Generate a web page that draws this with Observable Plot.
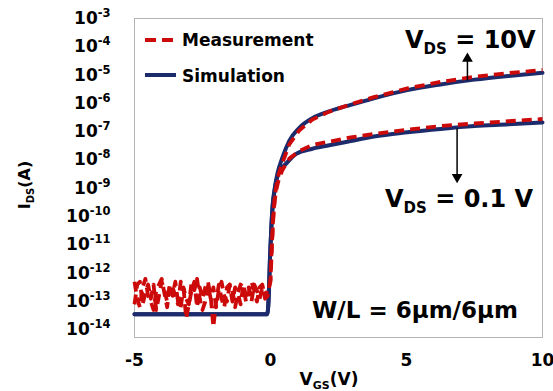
<!DOCTYPE html>
<html><head><meta charset="utf-8">
<script src="https://cdn.jsdelivr.net/npm/d3@7"></script>
<script src="https://cdn.jsdelivr.net/npm/@observablehq/plot@0.6"></script>
<style>
body{margin:0;background:#fff}
svg{font-family:"DejaVu Sans",sans-serif;font-weight:bold}
</style>
</head><body><div id="chart"></div>
<script>
// ---- tick values ----
const xTicks = [-5, 0, 5, 10];
const yTickExponents = [-3, -4, -5, -6, -7, -8, -9, -10, -11, -12, -13, -14];

// ---- simulation (log10 of IDS) ----
const vgsSim10 = [-5, -0.12, -0.06, -0.02, 0.03, 0.08, 0.14, 0.25, 0.44, 0.69, 1.06, 1.54, 2.16, 2.95, 3.8, 5.03, 6.25, 7.5, 8.75, 10];
const logSim10 = [-13.45, -13.45, -12.7, -11.5, -10.4, -9.6, -9.1, -8.5, -7.91, -7.32, -6.86, -6.52, -6.28, -6.05, -5.82, -5.53, -5.33, -5.16, -5.03, -4.92];
const vgsSim01 = [-5, -0.12, -0.06, -0.02, 0.03, 0.08, 0.14, 0.25, 0.4, 0.56, 0.93, 1.54, 2.16, 2.95, 3.8, 5.03, 6.25, 7.5, 8.75, 10];
const logSim01 = [-13.45, -13.45, -12.7, -11.5, -10.4, -9.6, -9.15, -8.6, -8.3, -8.14, -7.79, -7.6, -7.48, -7.33, -7.17, -7.02, -6.9, -6.8, -6.74, -6.67];

// ---- measurement (log10 of IDS) ----
const vgsMeas = [-5.0, -4.9, -4.8, -4.7, -4.6, -4.5, -4.4, -4.3, -4.2, -4.1,
  -4.0, -3.9, -3.8, -3.7, -3.6, -3.5, -3.4, -3.3, -3.2, -3.1,
  -3.0, -2.9, -2.8, -2.7, -2.6, -2.5, -2.4, -2.3, -2.2, -2.1,
  -2.0, -1.9, -1.8, -1.7, -1.6, -1.5, -1.4, -1.3, -1.2, -1.1,
  -1.0, -0.9, -0.8, -0.7, -0.6, -0.5, -0.4, -0.3, -0.2,
  -0.1, 0.0, 0.05, 0.1, 0.15, 0.2, 0.3, 0.44, 0.69, 1.06, 1.54, 2.16, 2.95, 3.8, 5.03, 6.25, 7.5, 8.75, 10];
const logMeas10 = [-12.3, -12.9, -13.2, -12.5, -12.2, -12.8, -13.0, -13.3, -12.6, -12.4,
  -12.2, -12.7, -13.2, -12.4, -12.8, -12.3, -13.0, -13.2, -12.5, -12.9,
  -13.1, -12.3, -12.6, -12.2, -12.9, -13.3, -13.0, -12.4, -12.9, -12.5,
  -13.2, -12.6, -12.3, -12.8, -13.0, -12.4, -12.6, -13.2, -12.7, -12.4,
  -12.5, -13.0, -12.7, -12.3, -12.6, -13.0, -12.5, -12.4, -12.9,
  -12.8, -12.2, -11.0, -10.0, -9.4, -9.0, -8.5, -8.1, -7.45, -6.95, -6.57, -6.29, -6.03, -5.78, -5.47, -5.24, -5.06, -4.93, -4.82];
const logMeas01 = [-13.1, -12.4, -12.3, -13.1, -12.7, -12.4, -12.9, -12.4, -13.3, -12.8,
  -12.3, -12.6, -13.0, -12.4, -12.5, -12.8, -13.1, -12.3, -12.5, -13.6,
  -13.1, -12.6, -12.3, -13.2, -12.5, -12.9, -12.5, -12.3, -12.8, -13.9,
  -13.0, -12.4, -12.9, -13.2, -12.5, -12.4, -13.0, -12.5, -12.7, -13.1,
  -12.4, -12.8, -12.5, -13.0, -12.4, -12.6, -12.9, -12.5, -12.8,
  -12.6, -12.3, -11.1, -10.1, -9.5, -9.1, -8.7, -8.35, -7.95, -7.68, -7.47, -7.35, -7.2, -7.08, -6.93, -6.8, -6.71, -6.63, -6.55];

// ---- annotation arrows (VGS, log10 IDS from -> to) ----
const arrowVgs = [7.24, 6.86];
const arrowFrom = [-5.19, -6.89];
const arrowTo = [-4.42, -8.6];
const arrowDir = [0, 180];

const blue = "#1c2b6b", red = "#cc0a0a";

const simData = [];
vgsSim10.forEach((v, i) => simData.push({s: "10V", vgs: v, ids: 10 ** logSim10[i]}));
vgsSim01.forEach((v, i) => simData.push({s: "0.1V", vgs: v, ids: 10 ** logSim01[i]}));
const measData = [];
vgsMeas.forEach((v, i) => measData.push({s: "10V", vgs: v, ids: 10 ** logMeas10[i]}));
vgsMeas.forEach((v, i) => measData.push({s: "0.1V", vgs: v, ids: 10 ** logMeas01[i]}));
const arrows = arrowVgs.map((v, i) => ({x: v, y1: 10 ** arrowFrom[i], y2: 10 ** arrowTo[i], r: arrowDir[i]}));

const plot = Plot.plot({
  width: 553, height: 391,
  marginLeft: 134, marginRight: 11, marginTop: 18, marginBottom: 54,
  style: {fontFamily: "DejaVu Sans", fontWeight: "bold", fontSize: "17px", color: "#000", background: "#fff", overflow: "visible"},
  x: {domain: [-5, 10], ticks: xTicks, tickSize: 0, tickPadding: 16, label: null, tickFormat: d => String(d)},
  y: {type: "log", domain: [10 ** -14.27, 1e-3], ticks: yTickExponents.map(e => 10 ** e),
      tickFormat: d => "10^" + Math.round(Math.log10(d)), tickSize: 0, tickPadding: 24, label: null},
  marks: [
    Plot.frame({stroke: "#b4b4b4", strokeWidth: 1}),
    Plot.line(simData, {x: "vgs", y: "ids", z: "s", stroke: blue, strokeWidth: 4, curve: "monotone-x"}),
    Plot.line(measData, {x: "vgs", y: "ids", z: "s", stroke: red, strokeWidth: 3.8, strokeDasharray: "10,6", strokeLinecap: "butt", curve: "linear"}),
    Plot.link(arrows, {x1: "x", x2: "x", y1: "y1", y2: "y2", stroke: "#000", strokeWidth: 1.5}),
    Plot.dot(arrows, {x: "x", y: "y2", symbol: "triangle", r: 4, fill: "#000", stroke: null, rotate: "r"})
  ]
});

// superscripts on y tick labels
plot.querySelectorAll("text").forEach(t => {
  const s = t.textContent;
  if (s.includes("^")) {
    const [b, e] = s.split("^");
    t.textContent = b;
    const ts = document.createElementNS("http://www.w3.org/2000/svg", "tspan");
    ts.setAttribute("dy", "-7");
    ts.setAttribute("font-size", "11.5px");
    ts.textContent = e;
    t.appendChild(ts);
  }
});

const svg = d3.select(plot);
function rich(x, y, parts, size, sub, anchor, transform) {
  const t = svg.append("text").attr("text-anchor", anchor || "start").attr("font-size", size + "px").attr("fill", "#000");
  if (transform) t.attr("transform", transform); else t.attr("x", x).attr("y", y);
  let shifted = 0;
  parts.forEach(p => {
    const ts = t.append("tspan").text(p[0]);
    if (p[1]) { ts.attr("font-size", sub.size + "px").attr("dy", sub.dy - shifted); shifted = sub.dy; }
    else if (shifted) { ts.attr("dy", -shifted); shifted = 0; }
  });
  return t;
}
// legend
svg.append("line").attr("x1", 145).attr("x2", 176).attr("y1", 40).attr("y2", 40)
  .attr("stroke", red).attr("stroke-width", 4).attr("stroke-dasharray", "11,6");
svg.append("line").attr("x1", 145).attr("x2", 176).attr("y1", 75).attr("y2", 75)
  .attr("stroke", blue).attr("stroke-width", 4);
rich(182, 46, [["Measurement"]], 17, null);
rich(182, 82, [["Simulation"]], 17, null);
// annotations
rich(405, 48, [["V"], ["DS", 1], [" = 10V"]], 24, {size: 15, dy: 6});
rich(385, 207, [["V"], ["DS", 1], [" = 0.1 V"]], 24, {size: 15, dy: 6});
rich(312, 318, [["W/L = 6μm/6μm"]], 23, null);
// axis titles
rich(329, 385, [["V"], ["GS", 1], ["(V)"]], 17, {size: 11, dy: 4}, "middle");
rich(0, 0, [["I"], ["DS", 1], ["(A)"]], 16, {size: 10, dy: 4}, "middle", "translate(30,185) rotate(-90)");

document.getElementById("chart").appendChild(plot);
</script>
</body></html>
